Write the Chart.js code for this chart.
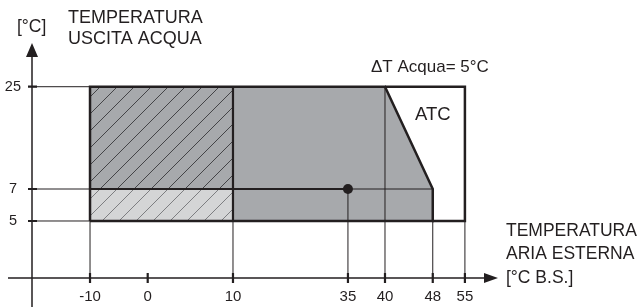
<!DOCTYPE html>
<html>
<head>
<meta charset="utf-8">
<script src="https://cdn.jsdelivr.net/npm/chart.js@4.4.1/dist/chart.umd.min.js"></script>
<style>
  html, body { margin: 0; padding: 0; background: #fff; }
  #wrap { width: 642px; height: 307px; position: relative; }
</style>
</head>
<body>
<div id="wrap"><canvas id="chart"></canvas></div>
<script>
// axis ticks
const airTicks = [-10, 0, 10, 35, 40, 48, 55];
const waterTicks = [5, 7, 25];

// operating limit (air temp °C, outlet water temp °C)
const limitAir = [-10, -10, 40, 48, 48, -10];
const limitWater = [5, 25, 25, 7, 5, 5];

// ATC extension
const atcAir = [40, 55, 55, 48];
const atcWater = [25, 25, 5, 5];

// hatched zones
const hatchAir = [-10, 10];
const hatchLowWater = [5, 7];
const hatchHighWater = [7, 25];

// nominal point
const nominalAir = [35];
const nominalWater = [7];

// guide lines down to the axes
const guideAir = [-10, 10, 35, 40, 48, 55];
const guideTop = [5, 5, 7, 25, 7, 5];
const guideWater = [5, 7, 25];

const deltaT = 5;

// the drawing is schematic: the axes are not to scale, so each axis gets
// its own piecewise layout (value -> fraction of the axis length)
const AXIS_LAYOUT = {
  x: [[-20, 0], [-10, 0.1245], [0, 0.2483], [10, 0.4313], [35, 0.678], [40, 0.7575], [48, 0.860], [55, 0.929], [62, 1]],
  y: [[0, 0], [5, 0.2426], [7, 0.3787], [25, 0.814], [30, 1]]
};

const LinearScale = Chart.registry.getScale('linear');

class SchematicScale extends LinearScale {
  static id = 'schematic';
  static defaults = LinearScale.defaults;

  getPixelForValue(value) {
    if (value === null || value === undefined || isNaN(value)) return NaN;
    const k = AXIS_LAYOUT[this.axis];
    let i = 1;
    while (i < k.length - 1 && value > k[i][0]) i++;
    const [v0, f0] = k[i - 1];
    const [v1, f1] = k[i];
    return this.getPixelForDecimal(f0 + (value - v0) / (v1 - v0) * (f1 - f0));
  }

  getValueForPixel(pixel) {
    const d = this.getDecimalForPixel(pixel);
    const k = AXIS_LAYOUT[this.axis];
    let i = 1;
    while (i < k.length - 1 && d > k[i][1]) i++;
    const [v0, f0] = k[i - 1];
    const [v1, f1] = k[i];
    return v0 + (d - f0) / (f1 - f0) * (v1 - v0);
  }
}
Chart.register(SchematicScale);

const INK = '#231f20';
const GREY = '#a7a9ac';
const LIGHT = '#d4d5d6';
const FONT = "'Liberation Sans', Arial, sans-serif";

const pts = (xs, ys) => xs.map((x, i) => ({x: x, y: ys[i]}));
const rect = (xr, yr) => pts([xr[0], xr[0], xr[1], xr[1], xr[0]], [yr[0], yr[1], yr[1], yr[0], yr[0]]);

const hatch = (bg, ink, width) => {
  const s = 17;
  const c = document.createElement('canvas');
  c.width = s;
  c.height = s;
  const g = c.getContext('2d');
  g.fillStyle = bg;
  g.fillRect(0, 0, s, s);
  g.strokeStyle = ink;
  g.lineWidth = width;
  g.beginPath();
  [0, s, 2 * s].forEach(k => {
    g.moveTo(k - s - 1, s + 1);
    g.lineTo(k + 1, -1);
  });
  g.stroke();
  return g.createPattern(c, 'repeat');
};

// vertical and horizontal guide lines, broken with null points
const guidesV = [];
guideAir.forEach((x, i) => guidesV.push({x: x, y: 0}, {x: x, y: guideTop[i]}, {x: x, y: null}));
const guidesH = [];
guideWater.forEach(y => guidesH.push({x: -20, y: y}, {x: hatchAir[0], y: y}, {x: null, y: y}));

const line = (data, width, color, order) => ({
  data: data,
  showLine: true,
  borderColor: color,
  borderWidth: width,
  pointRadius: 0,
  fill: false,
  order: order
});

const area = (data, bg, order) => ({
  data: data,
  showLine: true,
  borderWidth: 0,
  borderColor: 'rgba(0,0,0,0)',
  backgroundColor: bg,
  pointRadius: 0,
  fill: 'shape',
  order: order
});

const datasets = [
  area(pts(limitAir, limitWater), GREY, 20),
  area(rect(hatchAir, hatchHighWater), hatch(GREY, '#2b2b2d', 0.8), 19),
  area(rect(hatchAir, hatchLowWater), hatch(LIGHT, '#58595b', 0.7), 18),
  line(guidesV, 1, INK, 10),
  line(guidesH, 1, INK, 10),
  line(pts([nominalAir[0], limitAir[3]], [nominalWater[0], nominalWater[0]]), 1, INK, 9),
  line(pts(limitAir, limitWater), 2.5, INK, 5),
  line(pts(atcAir, atcWater), 2.5, INK, 5),
  line(pts([hatchAir[1], hatchAir[1]], [hatchLowWater[0], hatchHighWater[1]]), 2.2, INK, 5),
  line(pts([hatchAir[0], nominalAir[0]], [nominalWater[0], nominalWater[0]]), 2.2, INK, 5),
  {
    data: pts(nominalAir, nominalWater),
    showLine: false,
    pointRadius: 5,
    pointBackgroundColor: INK,
    pointBorderWidth: 0,
    order: 0
  }
];

// arrows, crossing axes and tick marks
const axesPlugin = {
  id: 'axes',
  afterDatasetsDraw(chart) {
    const {ctx} = chart;
    const x = chart.scales.x;
    const y = chart.scales.y;
    const x0 = x.getPixelForValue(x.min);
    const y0 = y.getPixelForValue(0);
    const xEnd = x.right;
    const yEnd = y.top;
    ctx.save();
    ctx.strokeStyle = INK;
    ctx.fillStyle = INK;
    ctx.lineWidth = 1.5;
    ctx.beginPath();
    ctx.moveTo(x0 - 24, y0);
    ctx.lineTo(xEnd - 10, y0);
    ctx.moveTo(x0, chart.height);
    ctx.lineTo(x0, yEnd + 10);
    ctx.stroke();

    ctx.beginPath();
    ctx.moveTo(xEnd, y0);
    ctx.lineTo(xEnd - 14, y0 - 5);
    ctx.lineTo(xEnd - 14, y0 + 5);
    ctx.closePath();
    ctx.moveTo(x0, yEnd);
    ctx.lineTo(x0 - 6, yEnd + 14);
    ctx.lineTo(x0 + 6, yEnd + 14);
    ctx.closePath();
    ctx.fill();

    ctx.lineWidth = 2.2;
    ctx.beginPath();
    x.ticks.forEach(t => {
      const p = x.getPixelForValue(t.value);
      ctx.moveTo(p, y0 - 5);
      ctx.lineTo(p, y0 + 5);
    });
    y.ticks.forEach(t => {
      const p = y.getPixelForValue(t.value);
      ctx.moveTo(x0 - 4, p);
      ctx.lineTo(x0 + 5, p);
    });
    ctx.stroke();
    ctx.restore();
  }
};

const notes = [
  {text: '[°C]', x: 17, y: 27, size: 17.5},
  {text: 'TEMPERATURA', x: 68, y: 18, size: 18},
  {text: 'USCITA ACQUA', x: 68, y: 39, size: 18},
  {text: '\u0394T Acqua= ' + deltaT + '°C', x: 371, y: 67, size: 17},
  {text: 'ATC', x: 415, y: 115, size: 18.5},
  {text: 'TEMPERATURA', x: 506, y: 231, size: 17.5},
  {text: 'ARIA ESTERNA', x: 506, y: 254, size: 17.5},
  {text: '[°C B.S.]', x: 506, y: 278, size: 17.5}
];

const notesPlugin = {
  id: 'notes',
  afterDraw(chart) {
    const {ctx} = chart;
    ctx.save();
    ctx.fillStyle = INK;
    ctx.textAlign = 'left';
    ctx.textBaseline = 'middle';
    notes.forEach(n => {
      ctx.font = n.size + 'px ' + FONT;
      ctx.fillText(n.text, n.x, n.y);
    });
    ctx.restore();
  }
};

new Chart(document.getElementById('chart'), {
  type: 'scatter',
  data: {datasets: datasets},
  plugins: [axesPlugin, notesPlugin],
  options: {
    responsive: true,
    maintainAspectRatio: false,
    animation: false,
    events: [],
    elements: {line: {tension: 0}},
    layout: {padding: {top: 43, right: 144, left: 0, bottom: 0}},
    plugins: {
      legend: {display: false},
      tooltip: {enabled: false}
    },
    scales: {
      x: {
        type: 'schematic',
        min: -20,
        max: 62,
        border: {display: false},
        grid: {display: false, drawTicks: false},
        afterBuildTicks: s => { s.ticks = airTicks.map(v => ({value: v})); },
        afterFit: s => { s.height = 29; },
        ticks: {
          autoSkip: false,
          maxRotation: 0,
          padding: 10,
          color: INK,
          font: {family: FONT, size: 15},
          callback: v => String(v)
        }
      },
      y: {
        type: 'schematic',
        min: 0,
        max: 30,
        border: {display: false},
        grid: {display: false, drawTicks: false},
        afterBuildTicks: s => { s.ticks = waterTicks.map(v => ({value: v})); },
        afterFit: s => { s.width = 32; },
        ticks: {
          autoSkip: false,
          crossAlign: 'center',
          padding: 11,
          color: INK,
          font: {family: FONT, size: 14.5},
          callback: v => String(v)
        }
      }
    }
  }
});
</script>
</body>
</html>
